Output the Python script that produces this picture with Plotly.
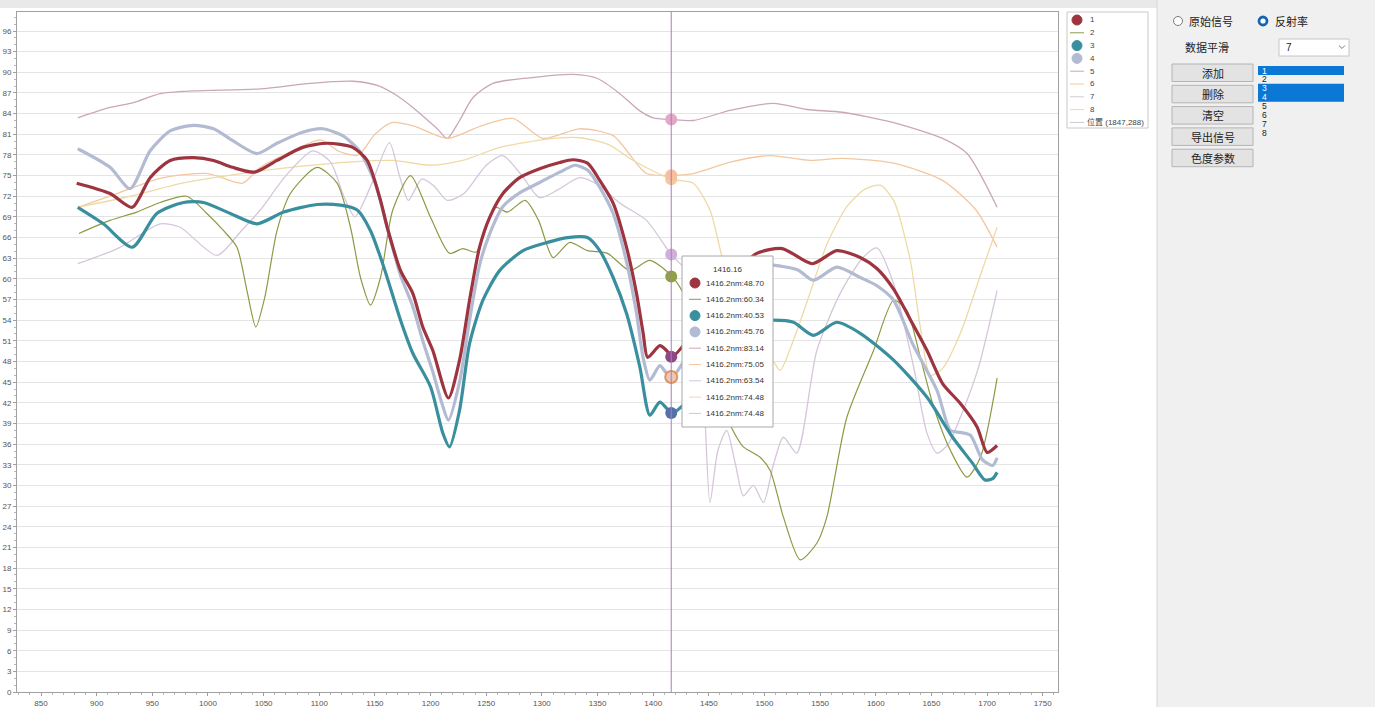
import plotly.graph_objects as go

# ---------------- data ----------------
x_range = [828.4, 1763.7]
y_range = [0, 98.76]
y_ticks = list(range(0, 97, 3))
x_ticks = list(range(850, 1751, 50))

names = ["1", "2", "3", "4", "5", "6", "7", "8"]

x1 = [882, 912, 932, 948, 966, 987, 1005, 1022, 1042, 1062, 1085, 1107, 1130, 1143, 1155, 1161, 1173, 1184, 1193, 1202, 1216, 1226, 1235, 1244, 1253, 1265, 1280, 1298, 1316, 1328, 1341, 1352, 1364, 1376, 1385, 1391, 1395, 1406, 1412, 1417, 1435, 1455, 1475, 1493, 1516, 1543, 1565, 1586, 1601, 1616, 1633, 1646, 1660, 1676, 1691, 1700, 1709]
y1 = [73.9, 72.4, 70.4, 74.7, 77.2, 77.6, 77.2, 76.2, 75.5, 77.2, 79.1, 79.7, 79.1, 77.2, 71.4, 67.5, 61.2, 57.9, 53.0, 49.6, 42.7, 48.2, 56.9, 64.6, 68.9, 72.4, 74.7, 76.0, 76.9, 77.3, 76.8, 74.3, 71.0, 64.6, 57.9, 52.1, 48.6, 50.3, 49.6, 48.7, 52.0, 57.0, 61.0, 63.7, 64.4, 62.2, 64.1, 63.1, 61.5, 58.5, 53.5, 49.6, 44.8, 41.9, 38.5, 34.8, 35.8]

x2 = [884, 912, 936, 957, 981, 999, 1014, 1026, 1035, 1043, 1051, 1062, 1074, 1098, 1116, 1128, 1137, 1146, 1155, 1166, 1182, 1200, 1217, 1229, 1241, 1258, 1269, 1285, 1297, 1310, 1325, 1341, 1359, 1379, 1397, 1417, 1430, 1445, 1460, 1475, 1481, 1496, 1505, 1517, 1532, 1547, 1556, 1574, 1598, 1616, 1628, 1640, 1652, 1667, 1682, 1694, 1709]
y2 = [66.6, 68.5, 69.7, 71.1, 72.0, 69.5, 67.0, 64.6, 58.3, 53.0, 57.3, 67.0, 72.4, 76.2, 73.9, 67.5, 60.2, 56.2, 60.2, 70.0, 75.0, 68.9, 63.7, 64.4, 63.9, 70.4, 69.7, 71.4, 68.5, 63.1, 65.3, 64.1, 63.7, 61.2, 62.7, 60.34, 57.0, 50.0, 42.0, 37.0, 35.6, 34.1, 32.2, 25.4, 19.2, 21.6, 25.4, 39.9, 49.6, 56.9, 55.4, 48.6, 41.4, 35.1, 31.2, 34.1, 45.6]

x3 = [883, 906, 932, 954, 978, 996, 1020, 1044, 1068, 1098, 1119, 1134, 1146, 1158, 1173, 1184, 1200, 1211, 1217, 1226, 1235, 1247, 1262, 1283, 1305, 1323, 1341, 1352, 1364, 1376, 1388, 1397, 1406, 1417, 1435, 1455, 1475, 1493, 1508, 1526, 1544, 1565, 1586, 1616, 1646, 1669, 1687, 1698, 1705, 1709]
y3 = [70.4, 68.0, 64.6, 69.5, 71.1, 71.1, 69.5, 68.0, 69.7, 70.8, 70.7, 70.0, 67.0, 61.7, 54.0, 49.2, 44.3, 37.6, 35.6, 40.9, 50.6, 56.9, 61.2, 64.1, 65.3, 66.0, 66.0, 64.1, 60.2, 55.0, 47.2, 40.2, 42.1, 40.53, 43.0, 47.5, 51.5, 53.8, 54.0, 53.7, 51.8, 53.7, 52.1, 48.2, 42.8, 37.0, 33.2, 30.8, 31.0, 31.9]

x4 = [883, 912, 930, 948, 966, 987, 1005, 1022, 1044, 1062, 1085, 1103, 1121, 1136, 1150, 1161, 1173, 1184, 1193, 1202, 1210, 1216, 1226, 1235, 1244, 1253, 1265, 1280, 1298, 1316, 1330, 1341, 1352, 1364, 1376, 1385, 1391, 1397, 1406, 1412, 1417, 1435, 1455, 1475, 1493, 1508, 1530, 1544, 1565, 1586, 1601, 1616, 1633, 1655, 1667, 1676, 1685, 1696, 1705, 1709]
y4 = [78.9, 76.2, 73.1, 78.6, 81.5, 82.3, 81.8, 80.1, 78.2, 79.7, 81.3, 81.8, 80.8, 78.6, 74.0, 67.5, 60.5, 56.0, 51.0, 46.5, 42.0, 39.5, 45.0, 54.0, 62.0, 66.5, 70.5, 72.5, 74.0, 75.5, 76.5, 75.8, 73.3, 69.5, 62.5, 55.0, 48.5, 45.3, 47.4, 46.3, 45.76, 50.0, 55.0, 59.5, 62.0, 62.0, 61.3, 59.8, 61.7, 60.2, 59.0, 56.9, 50.6, 43.8, 38.0, 37.7, 37.3, 33.7, 32.9, 34.0]

x5 = [883, 912, 933, 957, 987, 1047, 1092, 1130, 1152, 1170, 1184, 1206, 1215, 1226, 1238, 1256, 1289, 1328, 1350, 1370, 1388, 1400, 1417, 1436, 1470, 1508, 1538, 1570, 1616, 1660, 1682, 1709]
y5 = [83.4, 84.9, 85.6, 86.9, 87.3, 87.6, 88.4, 88.7, 88.1, 86.6, 84.9, 81.8, 80.4, 83.0, 86.3, 88.4, 89.2, 89.7, 89.1, 86.9, 84.4, 83.4, 83.14, 83.0, 84.5, 85.5, 84.6, 84.2, 82.7, 80.4, 78.2, 70.4]

x6 = [883, 920, 957, 1000, 1031, 1047, 1075, 1101, 1118, 1135, 1150, 1165, 1185, 1215, 1245, 1274, 1301, 1334, 1364, 1394, 1416, 1436, 1470, 1505, 1541, 1570, 1616, 1660, 1690, 1709]
y6 = [70.4, 72.5, 74.6, 75.3, 73.9, 76.2, 78.5, 80.2, 78.5, 78.0, 81.0, 82.7, 82.2, 80.4, 82.2, 83.3, 80.4, 81.8, 80.8, 75.3, 75.05, 75.3, 77.0, 77.9, 77.2, 77.5, 76.8, 74.3, 70.0, 64.6]

x7 = [883, 920, 957, 975, 1008, 1030, 1047, 1070, 1094, 1110, 1122, 1132, 1145, 1163, 1172, 1180, 1192, 1203, 1215, 1230, 1250, 1265, 1282, 1298, 1315, 1334, 1352, 1370, 1394, 1416, 1436, 1445, 1451, 1458, 1466, 1474, 1481, 1490, 1499, 1508, 1517, 1529, 1547, 1568, 1588, 1601, 1616, 1634, 1646, 1655, 1665, 1676, 1692, 1709]
y7 = [62.2, 64.5, 68.0, 67.5, 63.4, 67.0, 70.0, 75.0, 78.6, 77.0, 72.0, 69.0, 73.0, 79.8, 75.0, 71.4, 74.5, 73.5, 71.4, 72.4, 76.5, 77.9, 75.0, 71.8, 73.0, 74.7, 73.5, 71.0, 68.5, 63.54, 60.0, 45.0, 27.5, 35.0, 38.0, 33.0, 28.5, 30.0, 27.5, 33.0, 37.0, 34.7, 49.6, 57.9, 63.0, 64.5, 59.3, 47.2, 37.6, 34.7, 36.0, 39.9, 47.0, 58.3]

x8 = [883, 930, 980, 1030, 1080, 1130, 1166, 1200, 1229, 1260, 1300, 1334, 1360, 1382, 1416, 1436, 1451, 1463, 1480, 1495, 1508, 1514, 1528, 1541, 1556, 1574, 1590, 1604, 1616, 1631, 1640, 1649, 1660, 1676, 1695, 1709]
y8 = [70.4, 72.0, 74.0, 75.3, 76.3, 77.0, 77.2, 76.5, 77.2, 79.0, 80.2, 80.5, 79.5, 77.2, 74.48, 73.9, 70.0, 62.5, 55.0, 50.0, 48.0, 46.7, 52.0, 58.0, 65.0, 70.5, 73.0, 73.6, 71.4, 62.7, 53.0, 46.0, 47.0, 52.1, 61.0, 67.5]

cursor_x = 1416.2
cursor_title = "1416.16"
cursor_vals = [48.70, 60.34, 40.53, 45.76, 83.14, 75.05, 63.54, 74.48]
position_label = "位置 (1847,288)"

panel_radio = ["原始信号", "反射率"]
smooth_label = "数据平滑"
smooth_value = "7"
buttons = ["添加", "删除", "清空", "导出信号", "色度参数"]
list_items = ["1", "2", "3", "4", "5", "6", "7", "8"]
selected_items = ["1", "3", "4"]

# ---------------- styles ----------------
colors = ["#9e3440", "#8d9a45", "#3a8f9e", "#b3bbd3", "#c9a7b9", "#f3c7a0", "#d6c6da", "#efdaa6"]
widths = [3.2, 1.2, 3.2, 3.2, 1.3, 1.3, 1.3, 1.3]
thick = [True, False, True, True, False, False, False, False]
cursor_fill = ["#8b4a86", "#8fa048", "#5670aa", "#ecc7b8", "#e3a8c6", "#f7bf9c", "#cfb0da", "#f5c9a0"]
cursor_line = ["#8b4a86", "#8fa048", "#5670aa", "#e0955f", "#e3a8c6", "#f7bf9c", "#cfb0da", "#f5c9a0"]
cursor_color = "#a97cc0"

W, H = 1375, 707
L, R, T, B = 17, 1058, 12, 692  # plot area in page pixels
PW, PH = R - L, B - T


def X(p):
    return (p - L) / PW


def Y(p):
    return (B - p) / PH


shapes = []
annos = []


def rect(x0, y0, x1_, y1_, fill, line="rgba(0,0,0,0)", lw=1):
    shapes.append(dict(type="rect", xref="paper", yref="paper", x0=X(x0), x1=X(x1_),
                       y0=Y(y1_), y1=Y(y0), fillcolor=fill, line=dict(color=line, width=lw)))


def circ(cx, cy, r, fill, line, lw=1):
    shapes.append(dict(type="circle", xref="paper", yref="paper", x0=X(cx - r), x1=X(cx + r),
                       y0=Y(cy + r), y1=Y(cy - r), fillcolor=fill, line=dict(color=line, width=lw)))


def seg(xa, ya, xb, yb, color, lw=1):
    shapes.append(dict(type="line", xref="paper", yref="paper", x0=X(xa), x1=X(xb),
                       y0=Y(ya), y1=Y(yb), line=dict(color=color, width=lw)))


def text(px_, py_, s, size=8, color="#333333", anchor="left", family="Liberation Sans, Noto Sans CJK SC"):
    annos.append(dict(x=X(px_), y=Y(py_), xref="paper", yref="paper", text=s, showarrow=False,
                      xanchor=anchor, yanchor="middle", font=dict(size=size, color=color, family=family)))


fig = go.Figure()

series = [(x1, y1), (x2, y2), (x3, y3), (x4, y4), (x5, y5), (x6, y6), (x7, y7), (x8, y8)]
draw_order = [4, 5, 7, 6, 1, 3, 0, 2]
for i in draw_order:
    xs, ys = series[i]
    fig.add_trace(go.Scatter(x=xs, y=ys, mode="lines", name=names[i],
                             line=dict(color=colors[i], width=widths[i], shape="spline", smoothing=0.7),
                             showlegend=False, hoverinfo="skip"))

# cursor line
shapes.append(dict(type="line", xref="x", yref="paper", x0=cursor_x, x1=cursor_x, y0=0, y1=1,
                   line=dict(color=cursor_color, width=1)))

# cursor markers
for i in [7, 5, 4, 6, 1, 0, 3, 2]:
    fig.add_trace(go.Scatter(x=[cursor_x], y=[cursor_vals[i]], mode="markers", showlegend=False,
                             hoverinfo="skip",
                             marker=dict(size=12, color=cursor_fill[i],
                                         line=dict(color=cursor_line[i], width=2 if i == 3 else 0))))

# top title strip
rect(0, 0, 1160, 8, "#e9e9e9")

# ---------------- legend box ----------------
rect(1067, 12, 1148, 128, "#ffffff", "#c8c8c8")
for k, nm in enumerate(names):
    cy = 20 + k * 12.8
    if thick[k]:
        circ(1077, cy, 5, colors[k], colors[k])
    else:
        seg(1070, cy, 1084, cy, colors[k], 1)
    text(1088, cy, nm, size=8, color="#444444")
cy = 20 + 8 * 12.8
seg(1070, cy, 1084, cy, "#d0c4d4", 1)
text(1085, cy, position_label, size=8, color="#444444")

# ---------------- tooltip ----------------
rect(682, 256, 773, 427, "#ffffff", "#a8a8a8")
text(727, 269, cursor_title, size=8, color="#333333", anchor="center")
for k in range(8):
    cy = 283 + k * 16.3
    if thick[k]:
        circ(695, cy, 5, colors[k], colors[k])
    else:
        seg(689, cy, 701, cy, colors[k], 1)
    text(704, cy, "%.1fnm:%.2f" % (cursor_x, cursor_vals[k]), size=8, color="#333333")
cy = 283 + 8 * 16.3
seg(689, cy, 701, cy, "#d0c4d4", 1)
text(704, cy, "%.1fnm:%.2f" % (cursor_x, cursor_vals[7]), size=8, color="#333333")

# ---------------- right panel ----------------
rect(1157, 0, W, H, "#f0f0f0")
seg(1157, 0, 1157, H, "#d4d4d4", 1)
cjk = "Noto Sans CJK SC"
circ(1178, 21, 4.5, "#ffffff", "#7a7a7a", 1)
text(1187, 21, panel_radio[0], size=11, color="#222222", family=cjk)
circ(1263, 21, 4, "#ffffff", "#1664b0", 2.8)
text(1273, 21, panel_radio[1], size=11, color="#222222", family=cjk)
text(1183, 47, smooth_label, size=11, color="#222222", family=cjk)
rect(1279, 39, 1349, 56, "#ffffff", "#c6c6c6")
text(1284, 47.5, smooth_value, size=10, color="#222222")
shapes.append(dict(type="path", xref="paper", yref="paper",
                   path="M %f,%f L %f,%f L %f,%f" % (X(1339), Y(45.5), X(1342), Y(48.5), X(1345), Y(45.5)),
                   line=dict(color="#777777", width=1)))
for k, b in enumerate(buttons):
    y0 = 64 + k * 21.3
    rect(1172, y0, 1253, y0 + 17.5, "#e3e3e3", "#b4b4b4")
    text(1212.5, y0 + 8.8, b, size=11, color="#222222", anchor="center", family=cjk)
for k, it in enumerate(list_items):
    cy = 70.5 + k * 8.9
    if it in selected_items:
        rect(1258, cy - 4.6, 1344, cy + 4.6, "#0a78d4")
        col = "#ffffff"
    else:
        col = "#222222"
    text(1260, cy, it, size=8.5, color=col)

fig.update_layout(
    width=W, height=H,
    margin=dict(l=L, r=W - R, t=T, b=H - B),
    paper_bgcolor="#ffffff", plot_bgcolor="#ffffff",
    shapes=shapes, annotations=annos,
    showlegend=False,
    font=dict(family="Liberation Sans", size=8, color="#555555"),
    xaxis=dict(range=x_range, tickmode="array", tickvals=x_ticks, ticktext=[str(v) for v in x_ticks],
               showgrid=False, zeroline=False, showline=True, linecolor="#a0a0a0", linewidth=1, mirror=True,
               ticks="outside", ticklen=3, tickcolor="#a0a0a0", tickfont=dict(size=8, color="#555555"),
               minor=dict(dtick=10, ticks="outside", ticklen=2, tickcolor="#b8b8b8", showgrid=False),
               automargin=False, fixedrange=True),
    yaxis=dict(range=y_range, tickmode="array", tickvals=y_ticks, ticktext=[str(v) for v in y_ticks],
               showgrid=True, gridcolor="#e4e4e4", gridwidth=1, zeroline=False, showline=True,
               linecolor="#a0a0a0", linewidth=1, mirror=True,
               ticks="outside", ticklen=3, tickcolor="#a0a0a0", tickfont=dict(size=8, color="#555555"),
               minor=dict(dtick=1, ticks="outside", ticklen=2, tickcolor="#b8b8b8", showgrid=False),
               automargin=False, fixedrange=True),
)

fig.write_html("out.html", config={"displayModeBar": False},
               post_script="document.body.style.margin='0';document.body.style.overflow='hidden';")
